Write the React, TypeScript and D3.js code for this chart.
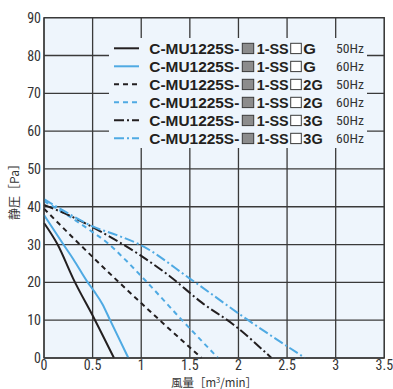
import React from "react";
import * as d3 from "d3";

// ---- data ----
const xTicks = [0, 0.5, 1, 1.5, 2, 2.5, 3, 3.5];
const yTicks = [0, 10, 20, 30, 40, 50, 60, 70, 80, 90];

const g50Flow = [0, 0.14, 0.3, 0.525, 0.72];
const g50Press = [35.7, 30, 21, 10, 0];
const g60Flow = [0, 0.2, 0.3, 0.45, 0.52, 0.6, 0.68, 0.868];
const g60Press = [37.8, 30, 26.2, 20, 17.5, 14.3, 10, 0];
const g2_50Flow = [0, 0.35, 0.76, 1.19, 1.62];
const g2_50Press = [39.5, 30.5, 20.3, 10, 0];
const g2_60Flow = [0, 0.3, 0.5, 0.65, 0.82, 1.05, 1.42, 1.79];
const g2_60Press = [41.5, 36.8, 33.3, 30.5, 26.4, 20.3, 10, 0];
const g3_50Flow = [0, 0.285, 0.5, 1.0, 1.3, 1.62, 1.95, 2.34];
const g3_50Press = [40.5, 37.4, 34.6, 27, 21.5, 14.7, 8.8, 0];
const g3_60Flow = [0, 0.3, 0.5, 0.75, 1.0, 1.5, 2.1, 2.685];
const g3_60Press = [42, 37.5, 34.8, 32.5, 29.8, 21, 10, 0];

const seriesFlows = [g50Flow, g60Flow, g2_50Flow, g2_60Flow, g3_50Flow, g3_60Flow];
const seriesPress = [g50Press, g60Press, g2_50Press, g2_60Press, g3_50Press, g3_60Press];
const seriesSuffix = ["G", "G", "2G", "2G", "3G", "3G"];
const seriesFreq = ["50Hz", "60Hz", "50Hz", "60Hz", "50Hz", "60Hz"];

const BLACK = "#231f20";
const BLUE = "#4faae3";
const colors = [BLACK, BLUE, BLACK, BLUE, BLACK, BLUE];
const dashes = ["", "", "5,4", "5,4", "10,3,2,3", "10,3,2,3"];

export default function App() {
  const W = 393, H = 389;
  const x = d3.scaleLinear().domain([0, 3.5]).range([44, 384.3]);
  const y = d3.scaleLinear().domain([0, 90]).range([358, 17.7]);
  const line = d3
    .line<[number, number]>()
    .x((d) => x(d[0]))
    .y((d) => y(d[1]))
    .curve(d3.curveMonotoneX);

  const narrow = "'Liberation Sans Narrow', 'Arial Narrow', 'Roboto Condensed', 'Liberation Sans', sans-serif";
  const bold = "'Liberation Sans', Arial, sans-serif";
  const cjk = "'Noto Sans CJK JP', 'Noto Sans', sans-serif";

  const legX = 109, legY = 38, legW = 258, legH = 110;
  const rowY = (i: number) => 48.3 + 18 * i;

  return (
    <svg
      width={W}
      height={H}
      style={{ position: "absolute", left: 0, top: 0, background: "#fff" }}
    >
      <rect x={x(0)} y={y(90)} width={x(3.5) - x(0)} height={y(0) - y(90)} fill="#eef5fc" />
      {/* grid */}
      {xTicks.map((t) => (
        <line key={"gx" + t} x1={x(t)} x2={x(t)} y1={y(0)} y2={y(90)} stroke="#3a3a3a" strokeWidth={1.3} />
      ))}
      {yTicks.map((t) => (
        <line key={"gy" + t} x1={x(0)} x2={x(3.5)} y1={y(t)} y2={y(t)} stroke="#3a3a3a" strokeWidth={1.3} />
      ))}
      {/* legend background hides grid */}
      <rect x={legX} y={legY} width={legW} height={legH} fill="#eef5fc" />
      {/* curves */}
      {seriesFlows.map((fl, i) => (
        <path
          key={"s" + i}
          d={line(fl.map((v, j) => [v, seriesPress[i][j]] as [number, number])) || ""}
          fill="none"
          stroke={colors[i]}
          strokeWidth={2}
          strokeDasharray={dashes[i] || undefined}
        />
      ))}
      {/* frame */}
      <rect x={x(0)} y={y(90)} width={x(3.5) - x(0)} height={y(0) - y(90)} fill="none" stroke="#3a3a3a" strokeWidth={1.3} />
      {/* legend */}
      {seriesSuffix.map((suf, i) => {
        const cy = rowY(i);
        return (
          <g key={"l" + i}>
            <line x1={114} x2={139} y1={cy} y2={cy} stroke={colors[i]} strokeWidth={2} strokeDasharray={dashes[i] || undefined} />
            <text x={149.3} y={cy + 5.2} fontFamily={bold} fontWeight="bold" fontSize={14} fill={BLACK} textLength={90} lengthAdjust="spacingAndGlyphs">
              C-MU1225S-
            </text>
            <rect x={242.3} y={cy - 5} width={11.4} height={10.3} fill="#8c8c8c" stroke="#3a3a3a" strokeWidth={1} />
            <text x={256.7} y={cy + 5.2} fontFamily={bold} fontWeight="bold" fontSize={14} fill={BLACK} textLength={32} lengthAdjust="spacingAndGlyphs">
              1-SS
            </text>
            <rect x={290.7} y={cy - 5} width={10.6} height={10.3} fill="#ffffff" stroke="#3a3a3a" strokeWidth={1} />
            <text x={303.3} y={cy + 5.2} fontFamily={bold} fontWeight="bold" fontSize={14} fill={BLACK} textLength={suf.length === 1 ? 12.7 : 19.4} lengthAdjust="spacingAndGlyphs">
              {suf}
            </text>
            <text x={336} y={cy + 4.6} fontFamily={narrow} fontSize={13} fill="#333" textLength={28} lengthAdjust="spacingAndGlyphs">
              {seriesFreq[i]}
            </text>
          </g>
        );
      })}
      {/* y tick labels */}
      {yTicks.map((t) => (
        <text key={"yl" + t} x={41} y={y(t)} dy="0.36em" textAnchor="end" fontFamily={narrow} fontSize={14} fill="#333">
          {t}
        </text>
      ))}
      {/* x tick labels */}
      {xTicks.map((t) => (
        <text key={"xl" + t} x={x(t)} y={370} textAnchor="middle" fontFamily={narrow} fontSize={14} fill="#333">
          {t}
        </text>
      ))}
      {/* axis titles */}
      <text x={214} y={386.5} textAnchor="middle" fontFamily={cjk} fontSize={11.5} fill="#333">
        風量［m<tspan dy={-4} fontSize={7.5}>3</tspan>
        <tspan dy={4}>/min］</tspan>
      </text>
      <text
        transform="translate(15,189) rotate(-90)"
        textAnchor="middle"
        dy="0.35em"
        fontFamily={cjk}
        fontSize={12}
        fill="#333"
      >
        静圧［Pa］
      </text>
    </svg>
  );
}
